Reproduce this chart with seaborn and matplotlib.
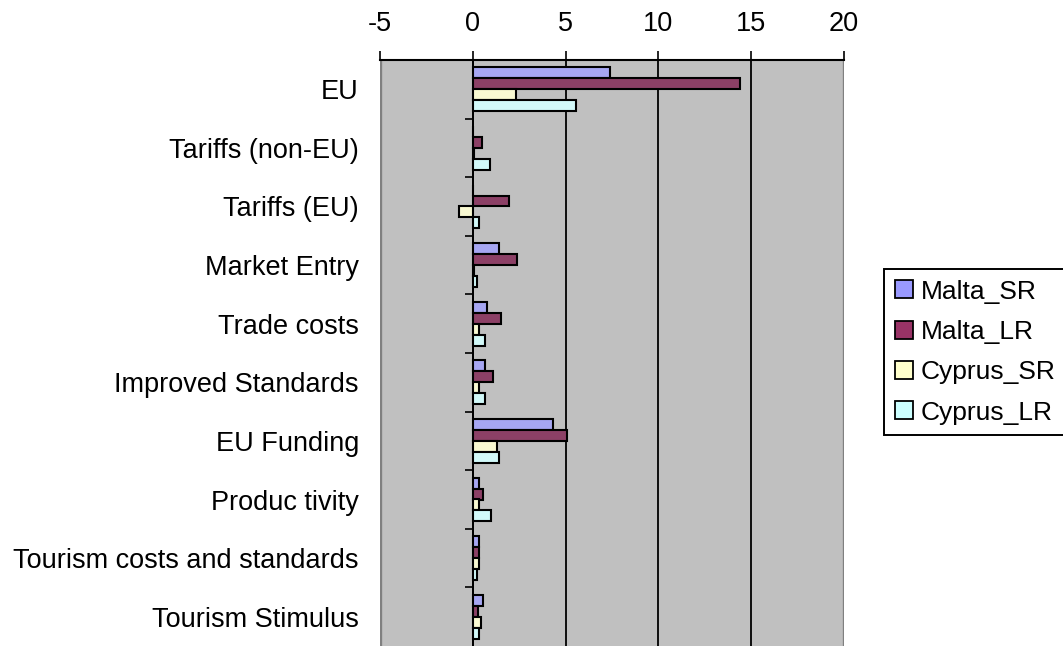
import numpy as np
import pandas as pd
import matplotlib
matplotlib.use("Agg")
import matplotlib.pyplot as plt
import seaborn as sns
from matplotlib.patches import Patch

plt.rcParams['font.family'] = ['Liberation Sans', 'DejaVu Sans']

categories = ["EU", "Tariffs (non-EU)", "Tariffs (EU)", "Market Entry", "Trade costs",
              "Improved Standards", "EU Funding", "Produc tivity",
              "Tourism costs and standards", "Tourism Stimulus"]
series = ["Malta_SR", "Malta_LR", "Cyprus_SR", "Cyprus_LR"]
malta_sr = [7.41, 0.0, 0.0, 1.40, 0.75, 0.65, 4.30, 0.32, 0.32, 0.54]
malta_lr = [14.4, 0.52, 1.94, 2.37, 1.51, 1.08, 5.05, 0.54, 0.32, 0.29]
cyprus_sr = [2.35, 0.05, -0.75, 0.05, 0.31, 0.31, 1.29, 0.32, 0.32, 0.43]
cyprus_lr = [5.58, 0.95, 0.31, 0.22, 0.65, 0.65, 1.40, 0.97, 0.24, 0.34]
colors = ["#9999FF", "#993366", "#FFFFCC", "#CCFFFF"]
xticks = [-5, 0, 5, 10, 15, 20]

values = [malta_sr, malta_lr, cyprus_sr, cyprus_lr]
rows = []
for s, vals in zip(series, values):
    for c, v in zip(categories, vals):
        rows.append({"category": c, "series": s, "value": v})
df = pd.DataFrame(rows)

W, H = 1063, 646
fig = plt.figure(figsize=(W / 100, H / 100), dpi=100)
ax = fig.add_axes([380 / W, 0, 464 / W, 1 - 60 / H])
ax.set_facecolor("#C0C0C0")

sns.barplot(data=df, x="value", y="category", hue="series", order=categories,
            hue_order=series, palette=colors, orient="h", width=0.75,
            edgecolor="black", linewidth=1.5, ax=ax, legend=False, zorder=3)

ax.set_xlim(xticks[0], xticks[-1])
ax.set_ylim(len(categories) - 0.5, -0.5)
ax.set_xlabel("")
ax.set_ylabel("")

# vertical gridlines
ax.set_xticks(xticks)
ax.grid(axis="x", color="black", linewidth=1.3, zorder=1)
ax.grid(axis="y", visible=False)
ax.set_axisbelow(True)
for xv in (xticks[0], xticks[-1]):
    ax.axvline(xv, color="#808080", linewidth=2.4, zorder=2)

# x axis on top
ax.xaxis.tick_top()
ax.tick_params(axis="x", which="major", length=6.5, width=1.2, pad=10,
               labelsize=19.5, color="black")
ax.set_xticklabels([str(t) for t in xticks])

# y axis at x = 0
ax.spines["left"].set_position(("data", 0))
ax.spines["left"].set_color("black")
ax.spines["left"].set_linewidth(1.4)
ax.spines["left"].set_zorder(4)
ax.spines["right"].set_visible(False)
ax.spines["bottom"].set_visible(False)
ax.spines["top"].set_color("black")
ax.spines["top"].set_linewidth(1.5)
ax.set_yticks(np.arange(len(categories)))
ax.set_yticklabels(categories)
ax.set_yticks(np.arange(0.5, len(categories) - 1, 1), minor=True)
ax.tick_params(axis="y", which="major", length=0, pad=82, labelsize=19.5)
ax.tick_params(axis="y", which="minor", length=5.8, width=1.2, color="black")

handles = [Patch(facecolor=c, edgecolor="black", linewidth=1.3, label=s)
           for c, s in zip(colors, series)]
leg = fig.legend(handles=handles, loc="upper left",
                 bbox_to_anchor=(884 / W, 1 - 269 / H), bbox_transform=fig.transFigure,
                 borderaxespad=0, fontsize=19, handlelength=0.68, handleheight=0.68,
                 handletextpad=0.3, borderpad=0.4, labelspacing=0.62,
                 fancybox=False, shadow=False, framealpha=1)
leg.get_frame().set_edgecolor("black")
leg.get_frame().set_linewidth(1.4)

fig.savefig("out.png", dpi=100)
